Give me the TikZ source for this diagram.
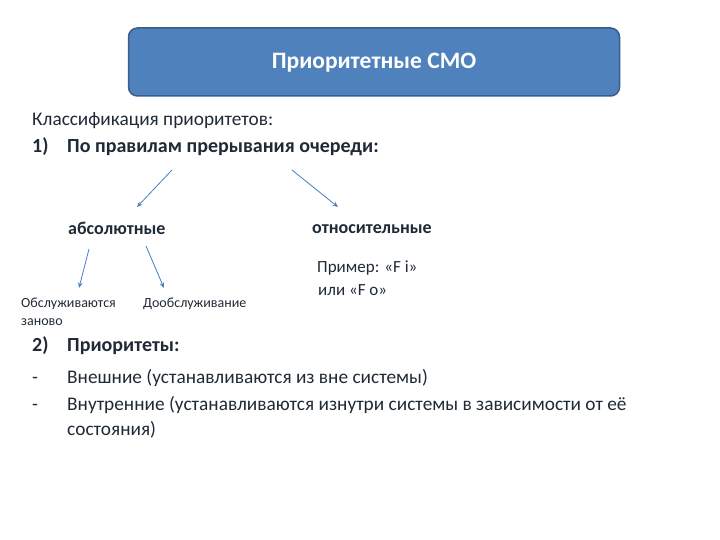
\documentclass[tikz,border=0pt]{standalone}
\usepackage{fontspec}
\setmainfont{Carlito}
\usetikzlibrary{arrows.meta}
\definecolor{boxfill}{HTML}{4F81BD}
\definecolor{boxline}{HTML}{385D8A}
\definecolor{txt}{HTML}{1F2A36}
\definecolor{arr}{HTML}{4A7EBB}
\tikzset{
  body/.style={anchor=west, inner sep=0pt, text=txt, font=\fontsize{19.3}{22}\selectfont},
  bodyb/.style={body, font=\fontsize{20}{22}\selectfont\bfseries},
  sub/.style={anchor=west, inner sep=0pt, text=txt, font=\fontsize{18}{20}\selectfont\bfseries},
  small/.style={anchor=west, inner sep=0pt, text=txt, font=\fontsize{14}{16}\selectfont},
  ex/.style={anchor=west, inner sep=0pt, text=txt, font=\fontsize{17}{19}\selectfont},
  conn/.style={draw=arr, line width=0.8pt, -{Stealth[length=5.5pt,width=4.5pt]}}
}
\begin{document}
\begin{tikzpicture}[x=1pt,y=-1pt]
\useasboundingbox (0,0) rectangle (720,540);
\node[draw=boxline, line width=1.5pt, fill=boxfill, rounded corners=9pt, minimum width=491pt, minimum height=68pt, inner sep=0pt] (title) at (374,62) {};
\node[text=white, font=\fontsize{23.5}{26}\selectfont\bfseries] (tt) at (374,63) {Приоритетные СМО};

\node[body] (cls) at (32,121) {Классификация приоритетов:};
\node[bodyb] (rule) at (67,148) {По правилам прерывания очереди:};
\node[bodyb, anchor=base west] (n1) at ([xshift=-35pt]rule.base west) {1)};
\coordinate (a1s) at (172,170);
\coordinate (a2s) at (292,170);

\node[sub] (abs) at (68,228) {абсолютные};
\node[sub] (rel) at (312,229) {относительные};
\coordinate (a1e) at (137,207);
\coordinate (a2e) at (338,207);
\draw[conn] (a1s) -- (a1e);
\draw[conn] (a2s) -- (a2e);

\coordinate (b1s) at (89,249);
\coordinate (b1e) at (79,288);
\coordinate (b2s) at (146,246);
\coordinate (b2e) at (164,288);
\draw[conn] (b1s) -- (b1e);
\draw[conn] (b2s) -- (b2e);

\node[small] (obs) at (21,304) {Обслуживаются};
\node[small] (zan) at (21,322) {заново};
\node[small] (doo) at (143,304) {Дообслуживание};

\node[ex] (pr1) at (317,268) {Пример: «F i»};
\node[ex] (pr2) at (318,290) {или «F o»};

\node[bodyb] (pri) at (67,347) {Приоритеты:};
\node[bodyb, anchor=base west] (n2) at ([xshift=-35pt]pri.base west) {2)};
\node[body] (ext) at (67,378) {Внешние (устанавливаются из вне системы)};
\node[body, anchor=base west] (d1) at ([xshift=-35pt]ext.base west) {-};
\node[body] (int) at (67,405) {Внутренние (устанавливаются изнутри системы в зависимости от её};
\node[body, anchor=base west] (d2) at ([xshift=-35pt]int.base west) {-};
\node[body] (int2) at (67,430) {состояния)};
\end{tikzpicture}
\end{document}
